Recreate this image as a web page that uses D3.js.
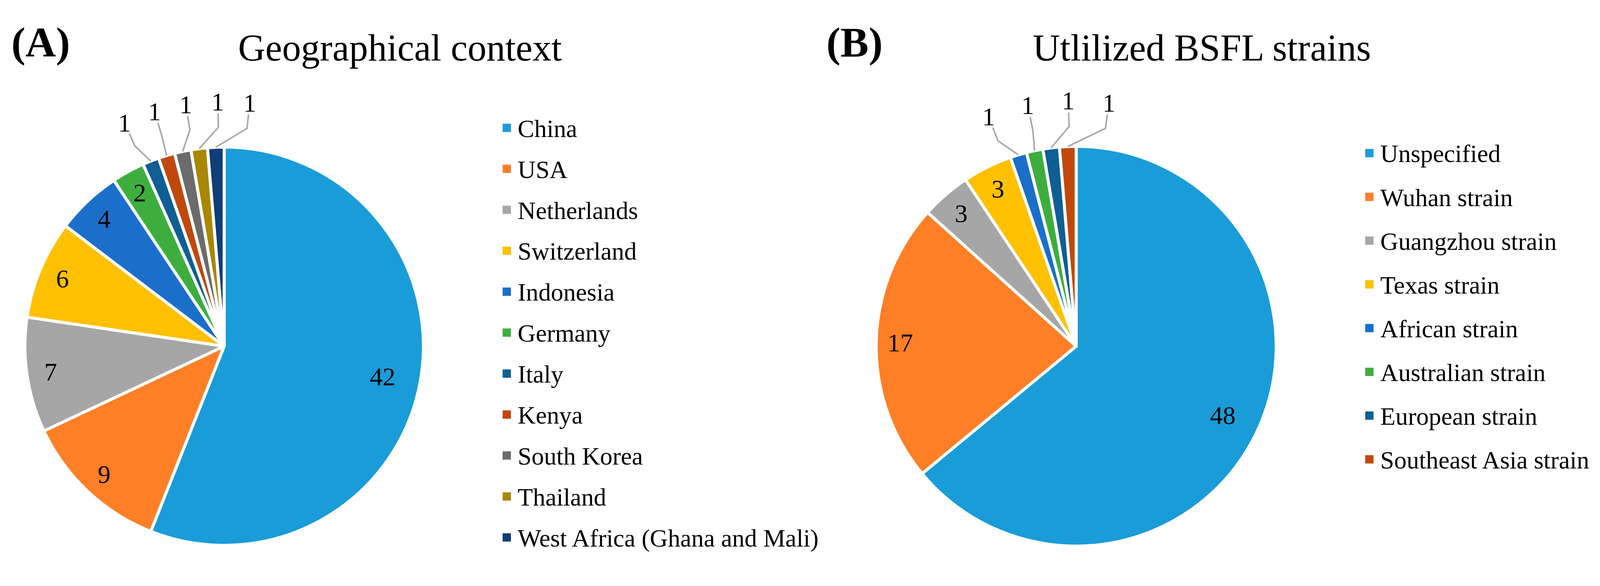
<!DOCTYPE html>
<html><head><meta charset="utf-8">
<script src="https://cdn.jsdelivr.net/npm/d3@7"></script>
<style>body{margin:0;background:#fff}text{font-family:"Liberation Serif","Times New Roman",serif}</style>
</head><body><svg id="chart" width="4236" height="1501"></svg>
<script>
const geoCategories = ['China', 'USA', 'Netherlands', 'Switzerland', 'Indonesia', 'Germany', 'Italy', 'Kenya', 'South Korea', 'Thailand', 'West Africa (Ghana and Mali)'];
const geoValues = [42, 9, 7, 6, 4, 2, 1, 1, 1, 1, 1];
const strainCategories = ['Unspecified', 'Wuhan strain', 'Guangzhou strain', 'Texas strain', 'African strain', 'Australian strain', 'European strain', 'Southeast Asia strain'];
const strainValues = [48, 17, 3, 3, 1, 1, 1, 1];
const palette = ['#199cd8', '#fe7f26', '#a6a6a6', '#ffc000', '#1b6fca', '#3dae3d', '#0f5e94', '#c0480d', '#6b6b6b', '#a98700', '#0f3e78'];

const svg = d3.select('#chart').append('g').attr('transform', 'scale(0.966)');

function drawPanel ({ tag, tagX, title, titleX, cx, cy, r, categories, values, legendX, legendY, legendStep, labelGap }) {
	svg.append('text').attr('x', tagX).attr('y', 150).attr('font-size', 112).attr('font-weight', 'bold').text(tag);
	svg.append('text').attr('x', titleX).attr('y', 160).attr('font-size', 100).attr('text-anchor', 'middle').text(title);

	const data = categories.map((c, i) => ({ c, v: values[i], color: palette[i] }));
	const arcs = d3.pie().sort(null).value(d => d.v)(data);
	const arc = d3.arc().innerRadius(0).outerRadius(r);
	const g = svg.append('g').attr('transform', `translate(${cx},${cy})`);
	g.selectAll('path').data(arcs).join('path')
		.attr('d', arc).attr('fill', d => d.data.color)
		.attr('stroke', '#fff').attr('stroke-width', 8).attr('stroke-linejoin', 'round');

	const mid = d => (d.startAngle + d.endAngle) / 2;
	const pt = (a, rr) => [Math.sin(a) * rr, -Math.cos(a) * rr];

	const big = arcs.filter(d => d.data.v > 1);
	g.selectAll('text.in').data(big).join('text')
		.attr('class', 'in')
		.attr('x', d => pt(mid(d), r * (d.data.v > 30 ? 0.81 : 0.88))[0])
		.attr('y', d => pt(mid(d), r * (d.data.v > 30 ? 0.81 : 0.88))[1])
		.attr('dy', '0.35em').attr('text-anchor', 'middle').attr('font-size', 68)
		.text(d => d.data.v);

	const small = arcs.filter(d => d.data.v === 1);
	const meanA = d3.mean(small, mid);
	const gap = labelGap * Math.PI / 180;
	small.forEach((d, i) => { d.la = meanA + (i - (small.length - 1) / 2) * gap + 3 * Math.PI / 180; });
	small.forEach(d => {
		const p0 = pt(mid(d), r);
		const p1 = pt(d.la, r * 1.1);
		const p2 = pt(d.la, r * 1.17);
		g.append('polyline').attr('points', [p0, p1, p2].map(p => p.join(',')).join(' '))
			.attr('fill', 'none').attr('stroke', '#a6a6a6').attr('stroke-width', 4);
		const lp = pt(d.la, r * 1.23);
		g.append('text').attr('x', lp[0]).attr('y', lp[1]).attr('dy', '0.35em')
			.attr('text-anchor', 'middle').attr('font-size', 68).text(d.data.v);
	});

	const leg = svg.append('g').selectAll('g').data(data).join('g')
		.attr('transform', (d, i) => `translate(${legendX},${legendY + i * legendStep})`);
	leg.append('rect').attr('x', 0).attr('y', -12).attr('width', 22).attr('height', 22).attr('fill', d => d.color);
	leg.append('text').attr('x', 40).attr('y', 0).attr('dy', '0.35em').attr('font-size', 66).text(d => d.c);
}

drawPanel({ tag: '(A)', tagX: 30, title: 'Geographical context', titleX: 1060, cx: 594, cy: 918, r: 528,
	categories: geoCategories, values: geoValues, legendX: 1332, legendY: 340, legendStep: 108.6, labelGap: 7.5 });
drawPanel({ tag: '(B)', tagX: 2190, title: 'Utlilized BSFL strains', titleX: 3185, cx: 2852, cy: 918, r: 530,
	categories: strainCategories, values: strainValues, legendX: 3618, legendY: 407, legendStep: 116, labelGap: 9.5 });
</script></body></html>
